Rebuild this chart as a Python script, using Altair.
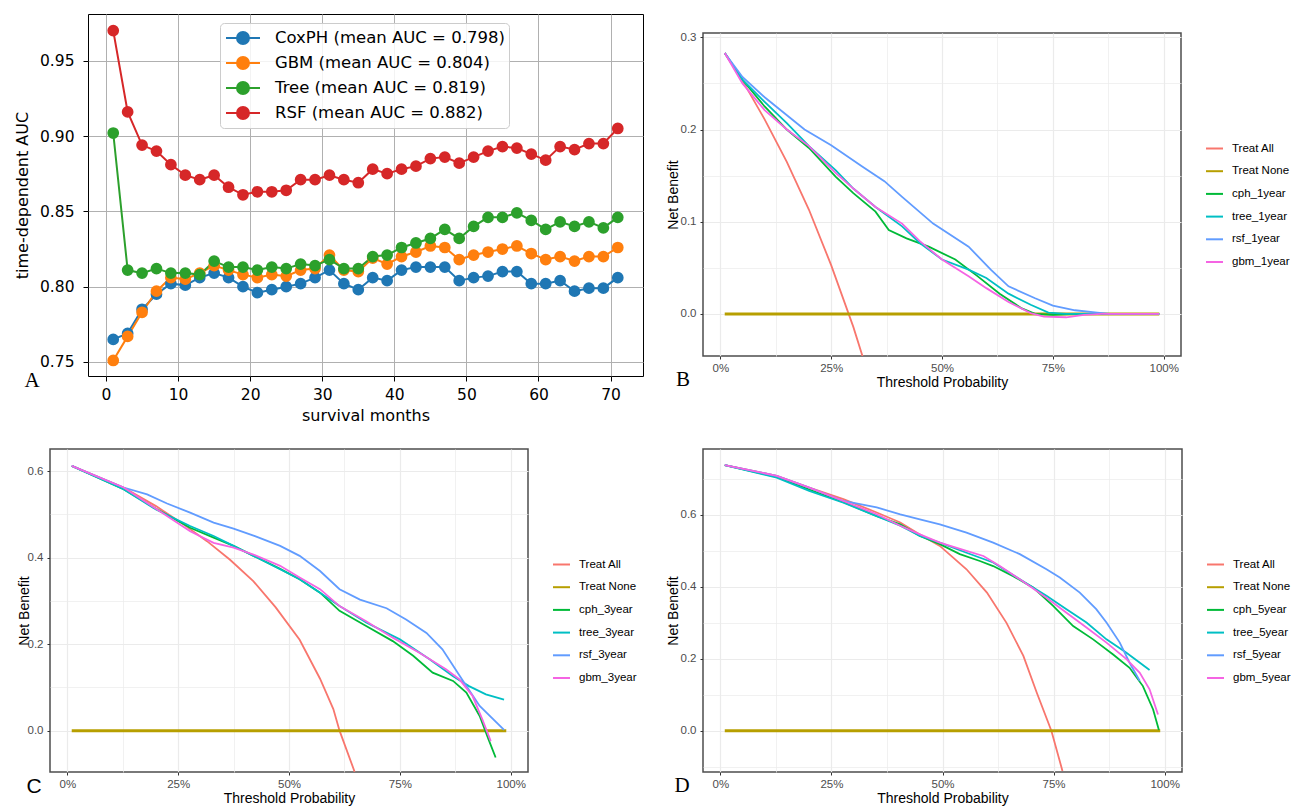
import altair as alt
import pandas as pd

FONT_A = "DejaVu Sans"
FONT_G = "Liberation Sans"
FONT_L = "Liberation Serif"

# ---------------- Panel A: time-dependent AUC ----------------
months = list(range(1, 72, 2))
auc_coxph = [0.765, 0.769, 0.785, 0.795, 0.802, 0.801, 0.806, 0.809, 0.806, 0.800, 0.796, 0.798,
             0.800, 0.802, 0.806, 0.811, 0.802, 0.798, 0.806, 0.804, 0.811, 0.813, 0.813, 0.813,
             0.804, 0.806, 0.807, 0.810, 0.810, 0.802, 0.802, 0.804, 0.797, 0.799, 0.799, 0.806]
auc_gbm = [0.751, 0.767, 0.783, 0.797, 0.806, 0.805, 0.809, 0.814, 0.811, 0.808, 0.806, 0.808,
           0.807, 0.811, 0.812, 0.821, 0.811, 0.810, 0.819, 0.815, 0.820, 0.823, 0.827, 0.826,
           0.818, 0.821, 0.823, 0.825, 0.827, 0.822, 0.818, 0.820, 0.817, 0.820, 0.820, 0.826]
auc_tree = [0.902, 0.811, 0.809, 0.812, 0.809, 0.809, 0.808, 0.817, 0.813, 0.813, 0.811, 0.813,
            0.812, 0.815, 0.814, 0.818, 0.812, 0.812, 0.820, 0.821, 0.826, 0.829, 0.832, 0.838,
            0.832, 0.840, 0.846, 0.846, 0.849, 0.844, 0.838, 0.843, 0.840, 0.843, 0.839, 0.846]
auc_rsf = [0.970, 0.916, 0.894, 0.890, 0.881, 0.874, 0.871, 0.874, 0.866, 0.861, 0.863, 0.863,
           0.864, 0.871, 0.871, 0.874, 0.871, 0.869, 0.878, 0.875, 0.878, 0.880, 0.885, 0.886,
           0.882, 0.886, 0.890, 0.893, 0.892, 0.888, 0.884, 0.893, 0.891, 0.895, 0.895, 0.905]
a_labels = ["CoxPH (mean AUC = 0.798)", "GBM (mean AUC = 0.804)",
            "Tree (mean AUC = 0.819)", "RSF (mean AUC = 0.882)"]
a_colors = ["#1f77b4", "#ff7f0e", "#2ca02c", "#d62728"]

# ---------------- DCA panels ----------------
g_colors = ["#F8766D", "#B79F00", "#00BA38", "#00BFC4", "#619CFF", "#F564E3"]
none_t = [0.01, 0.99]
none_nb = [0.0, 0.0]

# B: 1-year
b_all_t = [0.01, 0.05, 0.10, 0.15, 0.20, 0.25, 0.30, 0.33]
b_all_nb = [0.283, 0.253, 0.211, 0.165, 0.113, 0.053, -0.014, -0.06]
b_cph_t = [0.01, 0.05, 0.10, 0.15, 0.20, 0.26, 0.30, 0.35, 0.38, 0.42, 0.47, 0.53, 0.58, 0.63, 0.68, 0.71, 0.75, 0.80, 0.99]
b_cph_nb = [0.283, 0.254, 0.225, 0.200, 0.180, 0.149, 0.131, 0.111, 0.091, 0.082, 0.073, 0.059, 0.041, 0.022, 0.006, 0.0, -0.001, 0.0, 0.0]
b_tree_t = [0.01, 0.05, 0.10, 0.15, 0.20, 0.26, 0.30, 0.35, 0.41, 0.45, 0.50, 0.56, 0.60, 0.65, 0.70, 0.74, 0.78, 0.99]
b_tree_nb = [0.283, 0.254, 0.230, 0.207, 0.182, 0.156, 0.136, 0.116, 0.095, 0.077, 0.059, 0.048, 0.039, 0.022, 0.010, 0.0015, 0.0, 0.0]
b_rsf_t = [0.01, 0.05, 0.10, 0.19, 0.25, 0.32, 0.37, 0.41, 0.48, 0.56, 0.61, 0.65, 0.71, 0.75, 0.80, 0.85, 0.88, 0.99]
b_rsf_nb = [0.283, 0.257, 0.235, 0.200, 0.183, 0.160, 0.144, 0.127, 0.098, 0.073, 0.048, 0.030, 0.017, 0.009, 0.004, 0.0015, 0.0, 0.0]
b_gbm_t = [0.01, 0.05, 0.10, 0.15, 0.20, 0.26, 0.30, 0.35, 0.41, 0.45, 0.50, 0.56, 0.60, 0.65, 0.70, 0.73, 0.78, 0.82, 0.86, 0.99]
b_gbm_nb = [0.283, 0.250, 0.221, 0.200, 0.182, 0.153, 0.136, 0.116, 0.098, 0.079, 0.059, 0.041, 0.028, 0.013, 0.001, -0.003, -0.0036, -0.001, 0.0, 0.0]

# C: 3-year
c_all_t = [0.01, 0.127, 0.20, 0.255, 0.315, 0.367, 0.42, 0.47, 0.524, 0.57, 0.60, 0.614, 0.648]
c_all_nb = [0.612, 0.562, 0.519, 0.482, 0.438, 0.395, 0.345, 0.285, 0.21, 0.12, 0.05, 0.0, -0.095]
c_cph_t = [0.01, 0.127, 0.20, 0.277, 0.33, 0.375, 0.42, 0.48, 0.524, 0.57, 0.614, 0.674, 0.734, 0.78, 0.824, 0.87, 0.90, 0.93, 0.95, 0.966]
c_cph_nb = [0.612, 0.558, 0.513, 0.469, 0.446, 0.427, 0.404, 0.374, 0.350, 0.319, 0.277, 0.242, 0.207, 0.173, 0.134, 0.115, 0.088, 0.034, -0.02, -0.062]
c_tree_t = [0.01, 0.127, 0.20, 0.277, 0.33, 0.375, 0.42, 0.48, 0.524, 0.57, 0.614, 0.674, 0.75, 0.817, 0.87, 0.906, 0.944, 0.985]
c_tree_nb = [0.612, 0.558, 0.511, 0.473, 0.450, 0.427, 0.404, 0.373, 0.350, 0.319, 0.288, 0.250, 0.211, 0.165, 0.126, 0.103, 0.084, 0.072]
c_rsf_t = [0.01, 0.127, 0.18, 0.225, 0.277, 0.33, 0.375, 0.42, 0.48, 0.524, 0.57, 0.614, 0.66, 0.72, 0.764, 0.81, 0.846, 0.89, 0.93, 0.985]
c_rsf_nb = [0.612, 0.562, 0.546, 0.525, 0.504, 0.481, 0.467, 0.451, 0.427, 0.404, 0.369, 0.327, 0.303, 0.283, 0.257, 0.226, 0.188, 0.119, 0.057, 0.002]
c_gbm_t = [0.01, 0.127, 0.20, 0.277, 0.33, 0.375, 0.42, 0.48, 0.524, 0.57, 0.614, 0.674, 0.734, 0.794, 0.854, 0.884, 0.914, 0.936, 0.955]
c_gbm_nb = [0.612, 0.562, 0.513, 0.461, 0.434, 0.423, 0.407, 0.381, 0.354, 0.327, 0.288, 0.253, 0.215, 0.180, 0.142, 0.119, 0.080, 0.026, -0.024]

# D: 5-year
d_all_t = [0.01, 0.127, 0.20, 0.277, 0.352, 0.405, 0.449, 0.494, 0.554, 0.60, 0.644, 0.682, 0.712, 0.745, 0.77]
d_all_nb = [0.739, 0.709, 0.676, 0.644, 0.607, 0.579, 0.546, 0.514, 0.449, 0.384, 0.300, 0.208, 0.106, 0.0, -0.112]
d_cph_t = [0.01, 0.127, 0.20, 0.277, 0.352, 0.405, 0.449, 0.494, 0.539, 0.584, 0.614, 0.659, 0.704, 0.749, 0.794, 0.839, 0.884, 0.921, 0.951, 0.974, 0.987]
d_cph_nb = [0.739, 0.706, 0.671, 0.636, 0.597, 0.574, 0.542, 0.519, 0.491, 0.472, 0.458, 0.430, 0.398, 0.347, 0.291, 0.254, 0.212, 0.175, 0.124, 0.059, 0.002]
d_tree_t = [0.01, 0.127, 0.20, 0.277, 0.352, 0.405, 0.449, 0.494, 0.554, 0.614, 0.674, 0.734, 0.779, 0.824, 0.869, 0.914, 0.966]
d_tree_nb = [0.739, 0.704, 0.667, 0.634, 0.597, 0.570, 0.542, 0.523, 0.495, 0.468, 0.421, 0.375, 0.338, 0.301, 0.254, 0.217, 0.169]
d_rsf_t = [0.01, 0.127, 0.20, 0.277, 0.352, 0.405, 0.449, 0.494, 0.554, 0.614, 0.674, 0.734, 0.764, 0.809, 0.846, 0.869, 0.899, 0.921, 0.944]
d_rsf_nb = [0.739, 0.709, 0.676, 0.639, 0.621, 0.602, 0.588, 0.574, 0.551, 0.523, 0.491, 0.449, 0.426, 0.384, 0.338, 0.301, 0.245, 0.189, 0.138]
d_gbm_t = [0.01, 0.127, 0.20, 0.277, 0.352, 0.405, 0.449, 0.494, 0.554, 0.592, 0.629, 0.674, 0.734, 0.779, 0.824, 0.869, 0.914, 0.944, 0.966, 0.985]
d_gbm_nb = [0.739, 0.709, 0.676, 0.639, 0.602, 0.570, 0.546, 0.523, 0.500, 0.486, 0.458, 0.421, 0.370, 0.328, 0.287, 0.245, 0.199, 0.161, 0.115, 0.045]


# ---------------- helpers ----------------
def spacer(L, R, T, B):
    return alt.Chart(pd.DataFrame({"s": [0]})).mark_rule(opacity=0).encode(
        x=alt.value(L), x2=alt.value(R), y=alt.value(T), y2=alt.value(B))


def dummy():
    return alt.Chart(pd.DataFrame({"s": [0]})).mark_rule(opacity=0).encode(
        x=alt.value(0), x2=alt.value(1), y=alt.value(0)
    ).properties(width=1, height=1, view=alt.ViewBackground(stroke="transparent"))


def letter(text, font, size, dx, dy):
    return alt.Chart(pd.DataFrame({"lab": [text]})).mark_text(
        font=font, fontSize=size, color="black", align="center", baseline="middle"
    ).encode(text="lab:N", x=alt.value(dx), y=alt.value(dy))


def cond(majors, a, b):
    return {"condition": {"test": f"indexof({majors}, datum.value) >= 0", "value": a}, "value": b}


def indep(c):
    return c.resolve_scale(x="independent", y="independent",
                           stroke="independent", fill="independent")


# ---------------- Panel A chart ----------------
dfA = pd.DataFrame([
    {"month": m, "auc": v, "model": lab}
    for lab, vals in zip(a_labels, [auc_coxph, auc_gbm, auc_tree, auc_rsf])
    for m, v in zip(months, vals)
])
SYM = "M-0.9,0L2.5,0M1.4,0A0.6,0.6,0,1,1,0.2,0A0.6,0.6,0,1,1,1.4,0Z"
legA = alt.Legend(title=None, orient="none", legendX=132, legendY=9, symbolType=SYM,
                  symbolSize=400, symbolStrokeWidth=2, labelFont=FONT_A, labelFontSize=16.5,
                  labelColor="black", fillColor="rgba(255,255,255,0.85)", strokeColor="#cccccc",
                  cornerRadius=4, padding=4, rowPadding=3, labelOffset=29, labelLimit=0)
scA = alt.Scale(domain=a_labels, range=a_colors)
xA = alt.X("month:Q", title="survival months",
           scale=alt.Scale(domain=[-2.5, 74.5], nice=False, zero=False),
           axis=alt.Axis(values=list(range(0, 71, 10)), grid=True, gridColor="#b0b0b0", gridWidth=1,
                         domain=False, tickSize=5, tickColor="black", tickWidth=1,
                         labelFont=FONT_A, labelFontSize=15.5, labelColor="black", labelPadding=6,
                         labelFlush=False, titleFont=FONT_A, titleFontSize=16,
                         titleFontWeight="normal", titleColor="black", titlePadding=5))
yA = alt.Y("auc:Q", title="time-dependent AUC",
           scale=alt.Scale(domain=[0.7407, 0.981], nice=False, zero=False),
           axis=alt.Axis(values=[0.75, 0.80, 0.85, 0.90, 0.95], format=".2f", grid=True,
                         gridColor="#b0b0b0", gridWidth=1, domain=False, tickSize=5,
                         tickColor="black", tickWidth=1, labelFont=FONT_A, labelFontSize=15.5,
                         labelColor="black", labelPadding=9, titleFont=FONT_A, titleFontSize=16,
                         titleFontWeight="normal", titleColor="black", titlePadding=8.5))
lineA = alt.Chart(dfA).mark_line(strokeWidth=2).encode(
    x=xA, y=yA, stroke=alt.Stroke("model:N", scale=scA, legend=legA))
ptsA = alt.Chart(dfA).mark_point(filled=True, size=95, opacity=1, strokeWidth=2).encode(
    x=xA, y=yA, stroke=alt.Stroke("model:N", scale=scA, legend=legA),
    fill=alt.Fill("model:N", scale=scA, legend=legA))
chartA = alt.layer(lineA, ptsA, letter("A", FONT_L, 21, -56, 367),
                   spacer(-76, 568, -5, 411)).properties(
    width=555, height=362, view=alt.ViewBackground(stroke="black", strokeWidth=1))


# ---------------- DCA chart builder ----------------
def dca_chart(tag, curves, ydom, ymaj, yminor, let, let_font, let_dx, let_dy, legX, box,
              width=478, ytitle_pad=0):
    names = ["Treat All", "Treat None", f"cph_{tag}", f"tree_{tag}", f"rsf_{tag}", f"gbm_{tag}"]
    rows = []
    for name, (ts, vs) in zip(names, curves):
        for t, v in zip(ts, vs):
            rows.append({"series": name, "t": t, "nb": v})
    df = pd.DataFrame(rows)
    sc = alt.Scale(domain=names, range=g_colors)
    xmaj = [0, 0.25, 0.5, 0.75, 1]
    xall = [0, 0.125, 0.25, 0.375, 0.5, 0.625, 0.75, 0.875, 1]
    yall = sorted(ymaj + yminor)
    common = dict(domain=False, tickSize=3, tickColor="#333333", tickWidth=1, grid=True,
                  gridColor="#ebebeb", labelFont=FONT_G, labelFontSize=11.5, labelColor="#4d4d4d",
                  titleFont=FONT_G, titleFontSize=14, titleFontWeight="normal", titleColor="black")
    x = alt.X("t:Q", title="Threshold Probability",
              scale=alt.Scale(domain=[-0.039, 1.039], nice=False, zero=False),
              axis=alt.Axis(values=xall,
                            labelExpr=f"indexof({xmaj}, datum.value) >= 0 ? format(datum.value, '.0%') : ''",
                            tickOpacity=cond(xmaj, 1, 0), gridWidth=cond(xmaj, 1.2, 0.7),
                            labelPadding=3, labelFlush=False, titlePadding=2, **common))
    y = alt.Y("nb:Q", title="Net Benefit",
              scale=alt.Scale(domain=ydom, nice=False, zero=False),
              axis=alt.Axis(values=yall,
                            labelExpr=f"indexof({ymaj}, datum.value) >= 0 ? format(datum.value, '.1f') : ''",
                            tickOpacity=cond(ymaj, 1, 0), gridWidth=cond(ymaj, 1.2, 0.7),
                            labelPadding=4, titlePadding=ytitle_pad, **common))
    leg = alt.Legend(title=None, orient="none", legendX=legX, legendY=106, symbolType="stroke",
                     symbolSize=289, symbolStrokeWidth=2, labelFont=FONT_G, labelFontSize=11.5,
                     labelColor="black", rowPadding=7.7, labelOffset=8, padding=0)
    lines = alt.Chart(df).mark_line(clip=True).encode(
        x=x, y=y, stroke=alt.Stroke("series:N", scale=sc, legend=leg),
        strokeWidth=alt.condition("datum.series == 'Treat None'", alt.value(3), alt.value(1.8)))
    return alt.layer(lines, letter(let, let_font, 21, let_dx, let_dy), spacer(*box)).properties(
        width=width, height=323,
        view=alt.ViewBackground(stroke="#4d4d4d", strokeWidth=1.5))


chartB = dca_chart("1year",
                   [(b_all_t, b_all_nb), (none_t, none_nb), (b_cph_t, b_cph_nb),
                    (b_tree_t, b_tree_nb), (b_rsf_t, b_rsf_nb), (b_gbm_t, b_gbm_nb)],
                   [-0.0456, 0.3047], [0, 0.1, 0.2, 0.3], [0.05, 0.15, 0.25],
                   "B", FONT_L, -20, 347, 502, (-45, 585, -16, 394))
chartC = dca_chart("3year",
                   [(c_all_t, c_all_nb), (none_t, none_nb), (c_cph_t, c_cph_nb),
                    (c_tree_t, c_tree_nb), (c_rsf_t, c_rsf_nb), (c_gbm_t, c_gbm_nb)],
                   [-0.0955, 0.651], [0, 0.2, 0.4, 0.6], [0.1, 0.3, 0.5],
                   "C", FONT_G, -16, 338, 502, (-38, 605, -20, 330), ytitle_pad=-4)
chartD = dca_chart("5year",
                   [(d_all_t, d_all_nb), (none_t, none_nb), (d_cph_t, d_cph_nb),
                    (d_tree_t, d_tree_nb), (d_rsf_t, d_rsf_nb), (d_gbm_t, d_gbm_nb)],
                   [-0.115, 0.7836], [0, 0.2, 0.4, 0.6], [-0.1, 0.1, 0.3, 0.5, 0.7],
                   "D", FONT_L, -21, 337, 503, (-46, 585, -20, 330), width=479)

colB = indep(alt.vconcat(dummy(), chartB, spacing=0))
top_row = indep(alt.hconcat(dummy(), chartA, colB, spacing=0))
bottom_row = indep(alt.hconcat(dummy(), chartC, chartD, spacing=0))
chart = indep(alt.vconcat(top_row, bottom_row, spacing=0)).properties(
    padding=0, background="white")

chart.save("out.html", embed_options={"renderer": "svg", "actions": False})
